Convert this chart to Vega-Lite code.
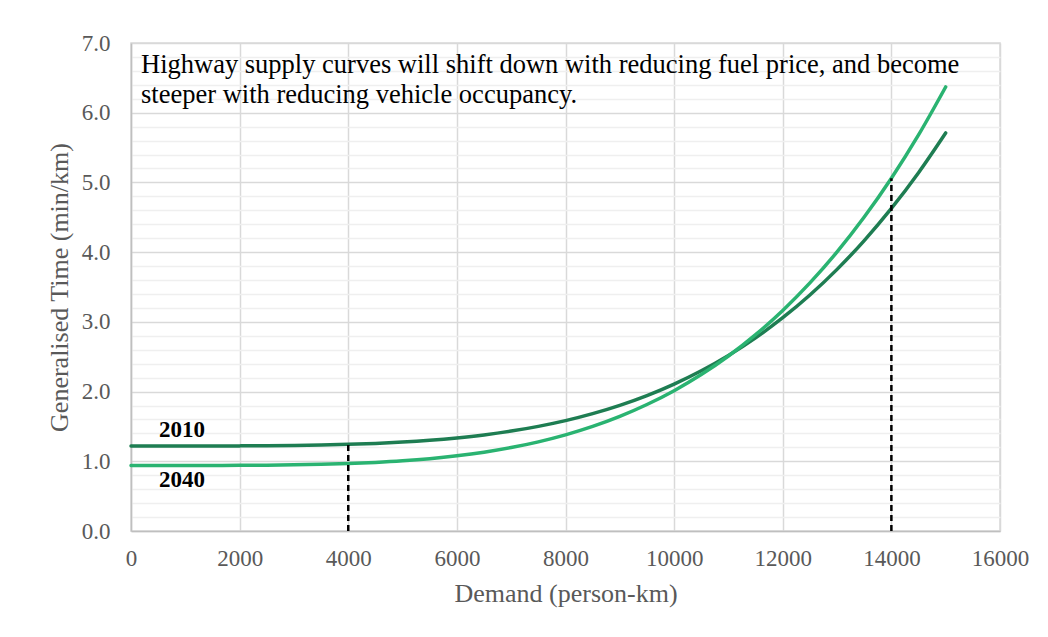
{
  "$schema": "https://vega.github.io/schema/vega-lite/v6.json",
  "width": 869,
  "height": 488,
  "autosize": {"type": "none"},
  "padding": {"left": 131, "top": 43, "right": 48, "bottom": 106},
  "background": "white",
  "config": {
    "font": "Liberation Serif",
    "view": {"stroke": "#d9d9d9", "strokeWidth": 1.5},
    "axis": {
      "labelFont": "Liberation Serif",
      "titleFont": "Liberation Serif",
      "labelColor": "#595959",
      "titleColor": "#595959",
      "labelFontSize": 23,
      "titleFontSize": 26,
      "titleFontWeight": "normal",
      "ticks": false,
      "domainColor": "#bfbfbf",
      "domainWidth": 1.5
    }
  },
  "encoding": {
    "x": {
      "field": "demand",
      "type": "quantitative",
      "scale": {"domain": [0, 16000], "nice": false, "zero": true},
      "axis": {
        "title": "Demand (person-km)",
        "values": [0, 2000, 4000, 6000, 8000, 10000, 12000, 14000, 16000],
        "format": "d",
        "labelPadding": 16,
        "titlePadding": 10,
        "gridColor": "#d9d9d9",
        "gridWidth": 1.5,
        "labelFlush": false
      }
    },
    "y": {
      "field": "time",
      "type": "quantitative",
      "scale": {"domain": [0, 7], "nice": false},
      "axis": {
        "title": "Generalised Time (min/km)",
        "values": [0, 0.2, 0.4, 0.6, 0.8, 1, 1.2, 1.4, 1.6, 1.8, 2, 2.2, 2.4, 2.6, 2.8, 3, 3.2, 3.4, 3.6, 3.8, 4, 4.2, 4.4, 4.6, 4.8, 5, 5.2, 5.4, 5.6, 5.8, 6, 6.2, 6.4, 6.6, 6.8, 7],
        "labelExpr": "abs(datum.value - round(datum.value)) < 0.01 ? format(datum.value, '.1f') : ''",
        "labelPadding": 21,
        "titlePadding": 9,
        "gridColor": {"condition": {"test": "abs(datum.value - round(datum.value)) < 0.01", "value": "#d9d9d9"}, "value": "#efefef"},
        "gridWidth": 1.5,
        "labelFlush": false
      }
    }
  },
  "layer": [
    {
      "data": {"values": [
        {"demand": 0, "time": 1.220, "year": "2010"},
        {"demand": 500, "time": 1.220, "year": "2010"},
        {"demand": 1000, "time": 1.220, "year": "2010"},
        {"demand": 1500, "time": 1.220, "year": "2010"},
        {"demand": 2000, "time": 1.221, "year": "2010"},
        {"demand": 2500, "time": 1.223, "year": "2010"},
        {"demand": 3000, "time": 1.227, "year": "2010"},
        {"demand": 3500, "time": 1.233, "year": "2010"},
        {"demand": 4000, "time": 1.243, "year": "2010"},
        {"demand": 4500, "time": 1.256, "year": "2010"},
        {"demand": 5000, "time": 1.275, "year": "2010"},
        {"demand": 5500, "time": 1.301, "year": "2010"},
        {"demand": 6000, "time": 1.335, "year": "2010"},
        {"demand": 6500, "time": 1.378, "year": "2010"},
        {"demand": 7000, "time": 1.433, "year": "2010"},
        {"demand": 7500, "time": 1.501, "year": "2010"},
        {"demand": 8000, "time": 1.583, "year": "2010"},
        {"demand": 8500, "time": 1.683, "year": "2010"},
        {"demand": 9000, "time": 1.802, "year": "2010"},
        {"demand": 9500, "time": 1.942, "year": "2010"},
        {"demand": 10000, "time": 2.107, "year": "2010"},
        {"demand": 10500, "time": 2.298, "year": "2010"},
        {"demand": 11000, "time": 2.518, "year": "2010"},
        {"demand": 11500, "time": 2.771, "year": "2010"},
        {"demand": 12000, "time": 3.059, "year": "2010"},
        {"demand": 12500, "time": 3.385, "year": "2010"},
        {"demand": 13000, "time": 3.753, "year": "2010"},
        {"demand": 13500, "time": 4.166, "year": "2010"},
        {"demand": 14000, "time": 4.627, "year": "2010"},
        {"demand": 14500, "time": 5.140, "year": "2010"},
        {"demand": 15000, "time": 5.710, "year": "2010"},
        {"demand": 0, "time": 0.940, "year": "2040"},
        {"demand": 500, "time": 0.940, "year": "2040"},
        {"demand": 1000, "time": 0.940, "year": "2040"},
        {"demand": 1500, "time": 0.941, "year": "2040"},
        {"demand": 2000, "time": 0.942, "year": "2040"},
        {"demand": 2500, "time": 0.944, "year": "2040"},
        {"demand": 3000, "time": 0.949, "year": "2040"},
        {"demand": 3500, "time": 0.956, "year": "2040"},
        {"demand": 4000, "time": 0.967, "year": "2040"},
        {"demand": 4500, "time": 0.984, "year": "2040"},
        {"demand": 5000, "time": 1.007, "year": "2040"},
        {"demand": 5500, "time": 1.038, "year": "2040"},
        {"demand": 6000, "time": 1.079, "year": "2040"},
        {"demand": 6500, "time": 1.131, "year": "2040"},
        {"demand": 7000, "time": 1.197, "year": "2040"},
        {"demand": 7500, "time": 1.279, "year": "2040"},
        {"demand": 8000, "time": 1.379, "year": "2040"},
        {"demand": 8500, "time": 1.500, "year": "2040"},
        {"demand": 9000, "time": 1.644, "year": "2040"},
        {"demand": 9500, "time": 1.814, "year": "2040"},
        {"demand": 10000, "time": 2.013, "year": "2040"},
        {"demand": 10500, "time": 2.244, "year": "2040"},
        {"demand": 11000, "time": 2.510, "year": "2040"},
        {"demand": 11500, "time": 2.816, "year": "2040"},
        {"demand": 12000, "time": 3.164, "year": "2040"},
        {"demand": 12500, "time": 3.559, "year": "2040"},
        {"demand": 13000, "time": 4.003, "year": "2040"},
        {"demand": 13500, "time": 4.503, "year": "2040"},
        {"demand": 14000, "time": 5.060, "year": "2040"},
        {"demand": 14500, "time": 5.681, "year": "2040"},
        {"demand": 15000, "time": 6.370, "year": "2040"}
      ]},
      "mark": {"type": "line", "strokeWidth": 3.5, "interpolate": "monotone", "strokeCap": "round"},
      "encoding": {
        "color": {
          "field": "year",
          "type": "nominal",
          "scale": {"domain": ["2010", "2040"], "range": ["#1e7d52", "#2ab371"]},
          "legend": null
        }
      }
    },
    {
      "data": {"values": [
        {"demand": 4000, "time": 0, "time2": 1.243},
        {"demand": 14000, "time": 0, "time2": 5.060}
      ]},
      "mark": {"type": "rule", "color": "black", "strokeWidth": 2.5, "strokeDash": [6, 4]},
      "encoding": {"y2": {"field": "time2"}}
    },
    {
      "data": {"values": [
        {"demand": 940, "time": 1.45, "label": "2010"},
        {"demand": 940, "time": 0.73, "label": "2040"}
      ]},
      "mark": {"type": "text", "font": "Liberation Serif", "fontWeight": "bold", "fontSize": 23, "color": "black", "align": "center", "baseline": "middle"},
      "encoding": {"text": {"field": "label", "type": "nominal"}}
    },
    {
      "data": {"values": [
        {"demand": 0, "time": 6.57, "note": "Highway supply curves will shift down with reducing fuel price, and become\nsteeper with reducing vehicle occupancy."}
      ]},
      "mark": {"type": "text", "font": "Liberation Serif", "fontSize": 26.5, "color": "black", "align": "left", "baseline": "alphabetic", "dx": 10, "lineBreak": "\n", "lineHeight": 30},
      "encoding": {"text": {"field": "note", "type": "nominal"}}
    }
  ]
}
